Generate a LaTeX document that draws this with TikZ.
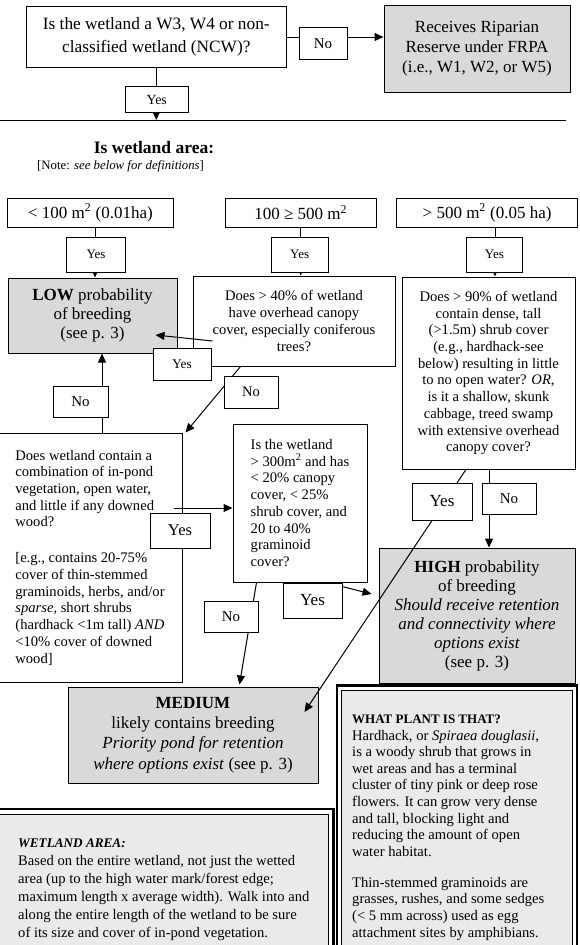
\documentclass[tikz,border=0pt]{standalone}
\usepackage{fontspec}
\setmainfont{Liberation Serif}
\usetikzlibrary{arrows.meta,calc}
\definecolor{resgrey}{RGB}{217,217,217}
\definecolor{panelgrey}{RGB}{234,234,234}
\newcommand{\fs}[2]{\fontsize{#1}{#2}\selectfont}
\begin{document}
\begin{tikzpicture}[x=1pt,y=-1pt,
  bx/.style={draw,line width=1pt,fill=white,inner sep=0pt,align=center},
  res/.style={bx,fill=resgrey},
  lab/.style={draw,line width=0.9pt,fill=white,inner sep=0pt},
  arr/.style={line width=1pt,-{Triangle[length=9pt,width=8pt]}},
  ln/.style={line width=1pt},
  qf/.style={font=\fs{14.6}{16.7}},
  pan/.style={draw,line width=0.8pt,fill=panelgrey,inner sep=0pt},
  frame/.style={line width=2.5pt},
  ptxt/.style={anchor=north west,inner sep=0pt,align=left}
]
\useasboundingbox (0,0) rectangle (579,945);

% ---- main boxes ----
\node[bx,minimum width=259.4pt,minimum height=61pt,font=\fs{17.3}{22.5}] (q1) at (156.3,37) {Is the wetland a W3, W4 or non-\\classified wetland (NCW)?};
\node[res,minimum width=186pt,minimum height=86.5pt,font=\fs{17}{20.3}] (rip) at (477,48.75) {Receives Riparian\\Reserve under FRPA\\(i.e., W1, W2, or W5)};

\node[font=\fs{17.5}{20}\bfseries,inner sep=0pt] (head) at (154,147.5) {Is wetland area:};
\node[font=\fs{12.8}{14},inner sep=0pt,anchor=west] (note) at (37,166) {[Note: \textit{see below for definitions}]};

\node[bx,minimum width=166pt,minimum height=29.5pt,font=\fs{17}{20}] (aA) at (90.4,213) {< 100 m\textsuperscript{2} (0.01ha)};
\node[bx,minimum width=151.4pt,minimum height=29.5pt,font=\fs{17}{20}] (aB) at (300.7,213) {100 ≥ 500 m\textsuperscript{2}};
\node[bx,minimum width=180.8pt,minimum height=29.5pt,font=\fs{17}{20}] (aC) at (487.1,213) {> 500 m\textsuperscript{2} (0.05 ha)};

\node[res,minimum width=169pt,minimum height=75pt,font=\fs{17}{18.7}] (low) at (92.5,315.5) {\textbf{LOW} probability\\of breeding\\(see p. 3)};
\node[bx,minimum width=202pt,minimum height=90pt,qf] (q2) at (294,321) {Does > 40\% of wetland\\have overhead canopy\\cover, especially coniferous\\trees?};
\node[bx,minimum width=173pt,minimum height=192pt,qf] (q3) at (488.5,373) {Does > 90\% of wetland\\contain dense, tall\\(>1.5m) shrub cover\\(e.g., hardhack-see\\below) resulting in little\\to no open water? \textit{OR},\\is it a shallow, skunk\\cabbage, treed swamp\\with extensive overhead\\canopy cover?};
\node[bx,minimum width=184pt,minimum height=249pt,qf,align=left] (lft) at (90,557.5) {Does wetland contain a\\combination of in-pond\\vegetation, open water,\\and little if any downed\\wood?\\[19.3pt][e.g., contains 20-75\%\\cover of thin-stemmed\\graminoids, herbs, and/or\\\textit{sparse}, short shrubs\\(hardhack <1m tall) \textit{AND}\\<10\% cover of downed\\wood]};
\node[bx,minimum width=134pt,minimum height=158pt,qf,align=left] (mq) at (300,503) {Is the wetland\\> 300m\textsuperscript{2} and has\\< 20\% canopy\\cover, < 25\%\\shrub cover, and\\20 to 40\%\\graminoid\\cover?};
\node[res,minimum width=196pt,minimum height=135pt,font=\fs{17}{19}] (high) at (477,615.5) {\textbf{HIGH} probability\\of breeding\\\textit{Should receive retention}\\\textit{and connectivity where}\\\textit{options exist}\\(see p. 3)};
\node[res,minimum width=250pt,minimum height=96pt,font=\fs{17}{20.3}] (med) at (193,735) {\textbf{MEDIUM}\\likely contains breeding\\\textit{Priority pond for retention}\\\textit{where options exist} (see p. 3)};

% ---- panels ----
\node[pan,minimum width=333pt,minimum height=140pt] (wpan) at (162,884) {};
\draw[frame] ($(wpan.north west)+(-4,-4.5)$) rectangle ($(wpan.south east)+(4.5,5)$);
\node[pan,minimum width=231.5pt,minimum height=262pt] (ppan) at (456.75,821) {};
\draw[frame] ($(ppan.north west)+(-3.5,-4)$) rectangle ($(ppan.south east)+(4,5)$);

\node[ptxt,font=\fs{14.6}{18}] (wtxt) at (18,834.9) {\strut{\fs{13.2}{18}\bfseries\itshape WETLAND AREA:}\\Based on the entire wetland, not just the wetted\\area (up to the high water mark/forest edge;\\maximum length x average width). Walk into and\\along the entire length of the wetland to be sure\\of its size and cover of in-pond vegetation.};
\node[ptxt,font=\fs{14.6}{16.6}] (ptxt) at (352,711.7) {\strut{\fs{13}{16.6}\bfseries WHAT PLANT IS THAT?}\\Hardhack, or \textit{Spiraea douglasii},\\is a woody shrub that grows in\\wet areas and has a terminal\\cluster of tiny pink or deep rose\\flowers. It can grow very dense\\and tall, blocking light and\\reducing the amount of open\\water habitat.\\[14.4pt]Thin-stemmed graminoids are\\grasses, rushes, and some sedges\\(< 5 mm across) used as egg\\attachment sites by amphibians.};

% ---- connectors ----
\coordinate (hl1) at (0,120);
\coordinate (hl2) at (566,120);
\draw[ln] (hl1) -- (hl2);
\draw[arr] (q1.east) -- (q1.east -| rip.west);
\draw[arr] (q1.south) -- (q1.south |- hl1);

\coordinate (sA) at ($(aA.south)+(4.6,0)$);
\draw[arr] (sA) -- (sA |- low.north);
\draw[arr] (aB.south) -- (aB.south |- q2.north);
\coordinate (sC) at ($(aC.south)+(7.9,0)$);
\draw[arr] (sC) -- (sC |- q3.north);

\draw[arr] ($(q2.west)+(20,20)$) -- ($(low.east)+(-22,19.5)$);
\draw[arr] ($(q2.south west)+(48,0)$) -- ($(lft.north east)+(3,0)$);
\coordinate (lu) at ($(lft.north)+(12,0)$);
\draw[arr] (lu) -- (lu |- low.south);
\coordinate (lr) at ($(lft.east)+(-9,-49.5)$);
\draw[arr] (lr) -- (lr -| mq.west);
\draw[arr] ($(mq.south west)+(24,0)$) -- ($(med.north west)+(172,-2)$);
\draw[arr] ($(mq.south east)+(-41,0)$) -- ($(high.west)+(-7,-21.5)$);
\draw[arr] ($(q3.south)+(-22.5,0)$) -- ($(med.east)+(-14,-23)$);
\coordinate (q3d) at ($(q3.south)+(0.5,0)$);
\draw[arr] (q3d) -- (q3d |- high.north);

% ---- labels ----
\node[lab,minimum width=48pt,minimum height=31.3pt,font=\fs{15}{16}] (noT) at (323,43.4) {No};
\node[lab,minimum width=62.5pt,minimum height=25.8pt,font=\fs{14}{16}] (yesT) at (156.75,99.6) {Yes};
\node[lab,minimum width=59pt,minimum height=35pt,font=\fs{13}{14}] (yA) at (96,254.5) {Yes};
\node[lab,minimum width=57.4pt,minimum height=35pt,font=\fs{13}{14}] (yB) at (299.7,254.5) {Yes};
\node[lab,minimum width=55.2pt,minimum height=35pt,font=\fs{13}{14}] (yC) at (494.4,254.5) {Yes};
\node[lab,minimum width=58pt,minimum height=32pt,font=\fs{13.3}{14}] (yQ2) at (182,364) {Yes};
\node[lab,minimum width=54pt,minimum height=32pt,font=\fs{14.5}{16}] (nQ2) at (251,392) {No};
\node[lab,minimum width=55pt,minimum height=31pt,font=\fs{15}{16}] (nL) at (80.5,401.5) {No};
\node[lab,minimum width=60pt,minimum height=35pt,font=\fs{16.5}{18}] (yL) at (180,530.5) {Yes};
\node[lab,minimum width=54pt,minimum height=31pt,font=\fs{15}{16}] (nM) at (231,616.5) {No};
\node[lab,minimum width=59pt,minimum height=35pt,font=\fs{17}{18}] (yM) at (312.5,600.5) {Yes};
\node[lab,minimum width=60pt,minimum height=37pt,font=\fs{17}{18}] (yQ3) at (442,501.5) {Yes};
\node[lab,minimum width=54pt,minimum height=31pt,font=\fs{15}{16}] (nQ3) at (509,498.5) {No};
\end{tikzpicture}
\end{document}
